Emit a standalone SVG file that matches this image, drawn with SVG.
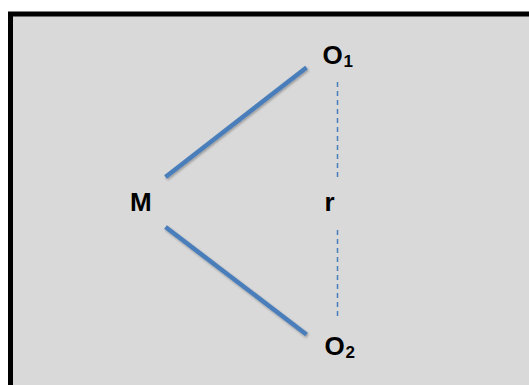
<svg xmlns="http://www.w3.org/2000/svg" width="529" height="385" viewBox="0 0 529 385">
  <defs>
    <style>
      .lbl { font-family: "Liberation Sans", Arial, sans-serif; font-weight: bold; fill: #000; }
      .main { font-size: 26px; }
      .sub { font-size: 17px; }
      .edge { stroke: #4a7ebb; stroke-width: 4.5; stroke-linecap: butt; fill: none; }
      .dash { stroke: #4a7ebb; stroke-width: 1.5; stroke-dasharray: 5 4; fill: none; }
    </style>
    <filter id="sh" x="-10%" y="-10%" width="120%" height="120%">
      <feDropShadow dx="1" dy="1.5" stdDeviation="1" flood-color="#000" flood-opacity="0.3"/>
    </filter>
  </defs>
  <rect x="0" y="0" width="529" height="385" fill="#ffffff"/>
  <rect id="frame" x="10.5" y="14" width="640" height="500" fill="#d9d9d9" stroke="#000" stroke-width="5"/>
  <g id="connectors">
    <line class="edge" filter="url(#sh)" x1="165.5" y1="177" x2="306.5" y2="67.5"/>
    <line class="edge" filter="url(#sh)" x1="165.5" y1="227" x2="306.5" y2="334.5"/>
    <line class="dash" x1="337.5" y1="82" x2="337.5" y2="181"/>
    <line class="dash" x1="337.5" y1="230" x2="337.5" y2="319"/>
  </g>
  <g id="node-M">
    <text class="lbl main" x="130" y="210.5">M</text>
  </g>
  <g id="node-O1">
    <text class="lbl main" x="322.5" y="63.5">O<tspan class="sub" x="343.5" y="67">1</tspan></text>
  </g>
  <g id="node-r">
    <text class="lbl main" x="324.5" y="210.5">r</text>
  </g>
  <g id="node-O2">
    <text class="lbl main" x="324.5" y="354.5">O<tspan class="sub" x="345.5" y="357.5">2</tspan></text>
  </g>
</svg>
